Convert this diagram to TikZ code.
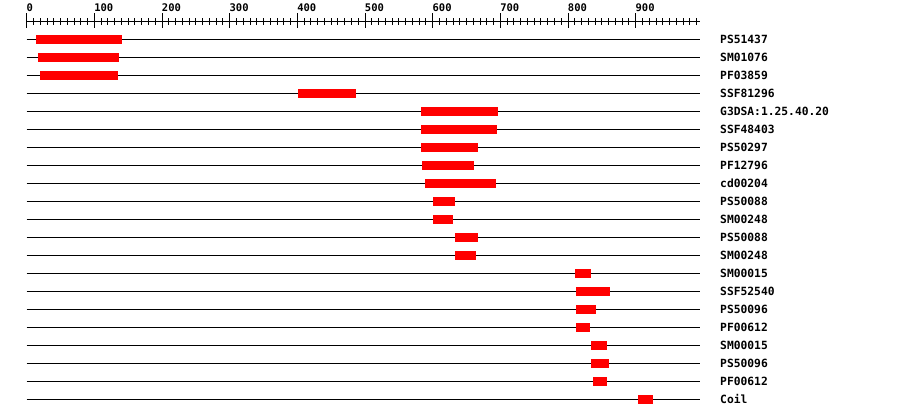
\documentclass[tikz,border=0pt]{standalone}
\usepackage{fontspec}
\newfontfamily\monofam{DejaVu Sans Mono}
\tikzset{
  axisline/.style={line width=1pt, black},
  tickmin/.style={line width=1pt, black},
  tickmaj/.style={line width=1pt, black},
  rowline/.style={line width=1pt, black},
  domainbar/.style={fill={rgb,255:red,255;green,0;blue,0}, draw=none},
  scalelabel/.style={anchor=west, inner sep=0pt, font=\monofam\bfseries\fontsize{10.5}{12}\selectfont},
  rowlabel/.style={anchor=west, inner sep=0pt, font=\monofam\bfseries\fontsize{11.3}{13}\selectfont}
}
\begin{document}
\begin{tikzpicture}[x=1pt,y=-1pt]
\useasboundingbox (0,0) rectangle (900,418);
\fill[white] (0,0) rectangle (900,418);
% ruler
\coordinate (rs) at (26.7,21.7);
\coordinate (re) at (700,21.7);
\draw[axisline] (rs) -- (re);
\foreach \k in {0,...,99} {
  \draw[tickmin] (26.7+\k*6.767,18.3) -- ++(0,6.8);
}
\foreach \k in {0,...,9} {
  \draw[tickmaj] (26.7+\k*67.67,13.3) -- ++(0,15);
  \pgfmathtruncatemacro{\v}{\k*100}
  \node[scalelabel] (sl\k) at (26.4+\k*67.67,7.6) {\v};
}
% rows
\foreach \lab/\a/\b [count=\i] in {
  PS51437/36/122,
  SM01076/38/119,
  PF03859/40/118,
  SSF81296/298/356,
  G3DSA:1.25.40.20/421/498,
  SSF48403/421/497,
  PS50297/421/478,
  PF12796/422/474,
  cd00204/425/496,
  PS50088/433/455,
  SM00248/433/453,
  PS50088/455/478,
  SM00248/455/476,
  SM00015/575/591,
  SSF52540/576/610,
  PS50096/576/596,
  PF00612/576/590,
  SM00015/591/607,
  PS50096/591/609,
  PF00612/593/607,
  Coil/638/653} {
  \pgfmathsetmacro{\yy}{39.3+18*(\i-1)}
  \coordinate (ls\i) at (26.7,\yy);
  \coordinate (le\i) at (700,\yy);
  \draw[rowline] (ls\i) -- (le\i);
  \fill[domainbar] (\a,\yy-4.4) rectangle (\b,\yy+4.6);
  \node[rowlabel] (lab\i) at (720,\yy) {\lab};
}
\end{tikzpicture}
\end{document}
